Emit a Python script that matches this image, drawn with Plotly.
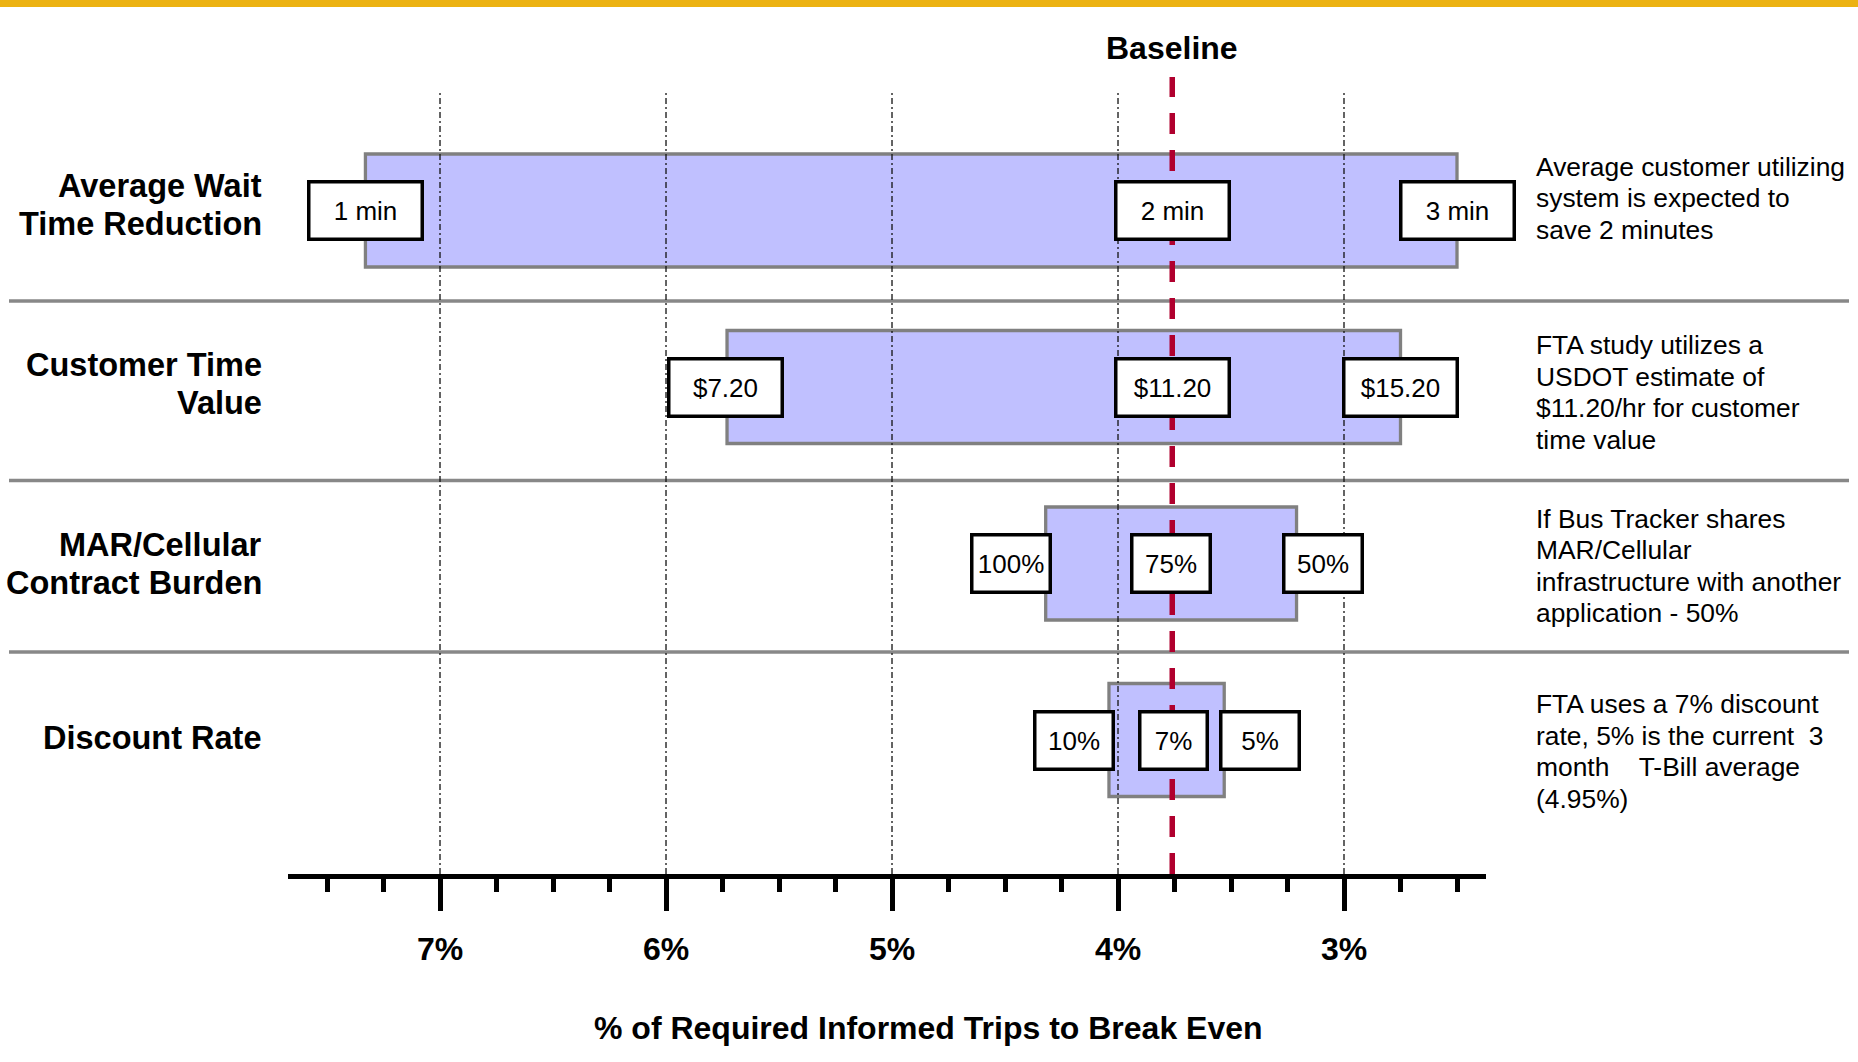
import plotly.graph_objects as go

# ---------------- data ----------------
CATEGORIES = ["Average Wait<br>Time Reduction", "Customer Time<br>Value",
              "MAR/Cellular<br>Contract Burden", "Discount Rate"]
HIGH_PCT = [7.33, 5.73, 4.32, 4.04]      # left end of each bar (% required trips)
LOW_PCT = [2.50, 2.75, 3.21, 3.53]       # right end of each bar
BASELINE_PCT = 3.76
LEFT_LABELS = ["1 min", "$7.20", "100%", "10%"]
BASE_LABELS = ["2 min", "$11.20", "75%", "7%"]
RIGHT_LABELS = ["3 min", "$15.20", "50%", "5%"]
NOTES = [
    "Average customer utilizing<br>system is expected to<br>save 2 minutes",
    "FTA study utilizes a<br>USDOT estimate of<br>$11.20/hr for customer<br>time value",
    "If Bus Tracker shares<br>MAR/Cellular<br>infrastructure with another<br>application - 50%",
    "FTA uses a 7% discount<br>rate, 5% is the current\u00a0\u00a03<br>month\u00a0\u00a0\u00a0\u00a0T-Bill average<br>(4.95%)",
]
TICK_VALUES = [7, 6, 5, 4, 3]
TICK_LABELS = ["7%", "6%", "5%", "4%", "3%"]
MINOR_STEP = 0.25
X_TITLE = "% of Required Informed Trips to Break Even"
BASELINE_TITLE = "Baseline"

# ---------------- layout / style ----------------
W, H = 1858, 1062
PL, PR, PT, PB = 288, 1486, 77, 874          # plot area in pixels
X_RANGE = [7.6726, 2.3717]
Y_RANGE = [0.2408, 4.7564]
ROW_POS = [4, 3, 2, 1]
GRID_TOP = 4.677
SEPARATOR_PX = [301, 480.5, 652]
FONT = "Liberation Sans, Arial, sans-serif"

BOX_W = [[110, 110, 110], [110, 110, 110], [75, 75, 75], [75, 64, 75]]
BOX_SHIFT = [[0, 0, 0], [-2, 0, 0], [-35, -1.5, 26.5], [-34.5, 1, 35.5]]
LABEL_OFF = [-5.5, -3, 0, -2]       # px, positive = down
NOTE_OFF = [-12.4, 5.5, 2.5, 11.5]


def paper_x(p):
    return (p - PL) / (PR - PL)


def paper_y(p):
    return (PB - p) / (PB - PT)


fig = go.Figure()

fig.add_trace(go.Bar(
    y=ROW_POS,
    x=[h - l for h, l in zip(HIGH_PCT, LOW_PCT)],
    base=LOW_PCT,
    orientation="h",
    width=0.64,
    marker=dict(color="#C0C0FF", line=dict(color="#808080", width=3.3)),
    hoverinfo="skip",
    showlegend=False,
))

shapes = []
# top gold band
shapes.append(dict(type="rect", xref="paper", yref="paper",
                   x0=paper_x(0), x1=paper_x(W), y0=paper_y(7), y1=paper_y(-2),
                   fillcolor="#ECB212", line=dict(width=0), layer="above"))
# row separators
for p in SEPARATOR_PX:
    yy = paper_y(p)
    shapes.append(dict(type="line", xref="paper", yref="paper",
                       x0=paper_x(9), x1=paper_x(1849), y0=yy, y1=yy,
                       line=dict(color="#888888", width=3.5), layer="above"))
# vertical dash-dot gridlines
for t in TICK_VALUES:
    shapes.append(dict(type="line", xref="x", yref="y", x0=t, x1=t,
                       y0=Y_RANGE[0], y1=GRID_TOP,
                       line=dict(color="#111111", width=1.3, dash="6px,3px,2px,3px"),
                       layer="above"))
# baseline
shapes.append(dict(type="line", xref="x", yref="y", x0=BASELINE_PCT, x1=BASELINE_PCT,
                   y0=Y_RANGE[0], y1=Y_RANGE[1],
                   line=dict(color="#B0002E", width=5.5, dash="21px,16px"),
                   layer="above"))

annotations = []
for i in range(len(CATEGORIES)):
    vals = [HIGH_PCT[i], BASELINE_PCT, LOW_PCT[i]]
    texts = [LEFT_LABELS[i], BASE_LABELS[i], RIGHT_LABELS[i]]
    for j in range(3):
        annotations.append(dict(
            x=vals[j], y=ROW_POS[i], xref="x", yref="y", text=texts[j],
            showarrow=False, font=dict(family=FONT, size=26, color="black"),
            bgcolor="white", bordercolor="black", borderwidth=3.5, borderpad=0,
            width=BOX_W[i][j], height=54, xshift=BOX_SHIFT[i][j],
            xanchor="center", yanchor="middle", align="center", valign="middle"))
    # row labels (one annotation per line, to control spacing)
    lines = CATEGORIES[i].split("<br>")
    n = len(lines)
    for k, ln in enumerate(lines):
        off = LABEL_OFF[i] + (k - (n - 1) / 2) * 38
        annotations.append(dict(
            x=paper_x(264), y=ROW_POS[i], xref="paper", yref="y",
            text="<b>" + ln + "</b>", showarrow=False, yshift=-off,
            font=dict(family=FONT, size=32.5, color="black"),
            xanchor="right", yanchor="middle", align="right"))
    # notes
    lines = NOTES[i].split("<br>")
    n = len(lines)
    for k, ln in enumerate(lines):
        off = NOTE_OFF[i] + (k - (n - 1) / 2) * 31.5
        annotations.append(dict(
            x=paper_x(1534), y=ROW_POS[i], xref="paper", yref="y",
            text=ln, showarrow=False, yshift=-off,
            font=dict(family=FONT, size=26.4, color="black"),
            xanchor="left", yanchor="middle", align="left"))

annotations.append(dict(
    x=BASELINE_PCT, y=paper_y(48), xref="x", yref="paper",
    text="<b>" + BASELINE_TITLE + "</b>", showarrow=False,
    font=dict(family=FONT, size=32, color="black"),
    xanchor="center", yanchor="middle"))
annotations.append(dict(
    x=paper_x(928.5), y=paper_y(1028), xref="paper", yref="paper",
    text="<b>" + X_TITLE + "</b>", showarrow=False,
    font=dict(family=FONT, size=32, color="black"),
    xanchor="center", yanchor="middle"))

fig.update_layout(
    width=W, height=H,
    margin=dict(l=PL, r=W - PR, t=PT, b=H - PB, pad=0),
    paper_bgcolor="white", plot_bgcolor="white",
    showlegend=False, hovermode=False,
    shapes=shapes, annotations=annotations,
    xaxis=dict(
        range=X_RANGE, tickmode="array", tickvals=TICK_VALUES, ticktext=TICK_LABELS,
        showgrid=False, zeroline=False,
        showline=True, linecolor="black", linewidth=5,
        ticks="outside", ticklen=32, tickwidth=5, tickcolor="black",
        ticklabelstandoff=11,
        tickfont=dict(family=FONT, size=32, color="black", weight="bold"),
        minor=dict(tickmode="linear", tick0=3, dtick=MINOR_STEP, ticks="outside",
                   ticklen=13, tickwidth=5, tickcolor="black", showgrid=False),
        fixedrange=True,
    ),
    yaxis=dict(range=Y_RANGE, visible=False, fixedrange=True),
)

fig.write_html("out.html", config={"displayModeBar": False},
               post_script="document.body.style.margin='0px';")
